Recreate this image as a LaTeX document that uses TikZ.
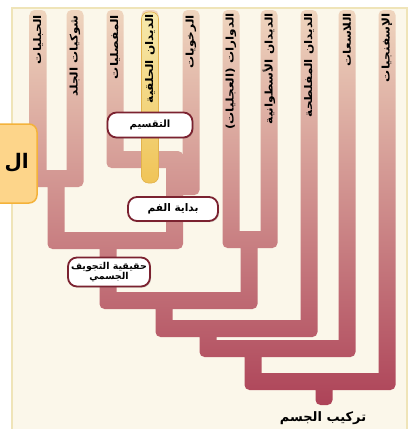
\documentclass[tikz,border=0pt]{standalone}
\usepackage{fontspec}
\newfontfamily\arfont[Script=Arabic]{DejaVu Sans}
\newfontfamily\arlabel[Script=Arabic, FakeStretch=1.15]{DejaVu Sans}
\TeXXeTstate=1
\usetikzlibrary{shadows}
\definecolor{bgcream}{HTML}{FBF7EA}
\definecolor{framecol}{HTML}{EFE4B8}
\definecolor{treetop}{HTML}{EFD5BE}
\definecolor{treemid}{HTML}{D3948F}
\definecolor{treebot}{HTML}{AD4358}
\definecolor{nodeborder}{HTML}{7B2230}
\definecolor{yelltop}{HTML}{F6E9AE}
\definecolor{yellbot}{HTML}{F0C457}
\definecolor{yelledge}{HTML}{E2B24C}
\definecolor{boxfill}{HTML}{FDD58A}
\definecolor{boxborder}{HTML}{F4B23A}
\begin{document}
\begin{tikzpicture}[x=1pt,y=-1pt,
 leaflabel/.style={rotate=90, anchor=east, font=\arlabel\bfseries\fontsize{10.5}{10.5}\selectfont, inner sep=0pt},
 trait/.style={draw=nodeborder, line width=1.8pt, fill=white, rounded corners=9pt,
   font=\arfont\bfseries\fontsize{10}{11}\selectfont, align=center, inner sep=2pt,
   drop shadow={opacity=0.3, shadow xshift=1pt, shadow yshift=-1.2pt}},
]
\useasboundingbox (0,0) rectangle (415,429);
\fill[white] (0,0) rectangle (415,429);
\fill[bgcream, draw=framecol, line width=1.2pt] (12,8) rectangle (407,440);

% tree branches
\begin{scope}
\clip[rounded corners=5pt]
 (29.5,10) rectangle (46.5,187)
 (66.5,10) rectangle (83.5,187)
 (29.5,170) rectangle (83.5,187)
 (47.5,170) rectangle (64.5,249)
 (106.5,10) rectangle (123.5,168)
 (141.5,10) rectangle (158.5,168)
 (106.5,151) rectangle (183,168)
 (182.5,10) rectangle (199.5,195)
 (166,178) rectangle (199.5,195)
 (166,151) rectangle (183,249)
 (47.5,232) rectangle (183,249)
 (99.5,232) rectangle (116.5,309)
 (222.5,10) rectangle (239.5,248)
 (260.5,10) rectangle (277.5,248)
 (222.5,231) rectangle (277.5,248)
 (240.5,231) rectangle (257.5,309)
 (99.5,292) rectangle (257.5,309)
 (155.5,292) rectangle (172.5,337)
 (300.5,10) rectangle (317.5,337)
 (155.5,320) rectangle (317.5,337)
 (199.5,320) rectangle (216.5,357)
 (338.5,10) rectangle (355.5,357)
 (199.5,340) rectangle (355.5,357)
 (244.5,340) rectangle (261.5,390)
 (378.5,10) rectangle (395.5,390)
 (244.5,373) rectangle (395.5,390)
 (315.5,373) rectangle (332.5,405);
\shade[top color=treetop, middle color=treemid, bottom color=treebot] (0,10) rectangle (415,405);
\end{scope}

% highlighted annelid lineage
\draw[yelledge, line width=0.6pt, top color=yelltop, bottom color=yellbot, rounded corners=7pt]
 (141.5,12) rectangle (158.5,183);

% leaf labels
\node[leaflabel] (t1) at (38,15) {\beginR الحبليات\endR};
\node[leaflabel] (t2) at (75,15) {\beginR شوكيات الجلد\endR};
\node[leaflabel] (t3) at (115,15) {\beginR المفصليات\endR};
\node[leaflabel] (t4) at (150,14) {\beginR الديدان الحلقية\endR};
\node[leaflabel] (t5) at (191,15) {\beginR الرخويات\endR};
\node[leaflabel] (t6) at (231,13) {\beginR الدوارات (العجليات)\endR};
\node[leaflabel] (t7) at (269,13) {\beginR الديدان الأسطوانية\endR};
\node[leaflabel] (t8) at (309,13) {\beginR الديدان المفلطحة\endR};
\node[leaflabel] (t9) at (347,13) {\beginR اللاسعات\endR};
\node[leaflabel] (t10) at (387,13) {\beginR الإسفنجيات\endR};

% trait nodes
\node[trait, minimum width=85pt, minimum height=25pt] (seg) at (150,125) {\beginR التقسيم\endR};
\node[trait, minimum width=90pt, minimum height=24pt, font=\arfont\bfseries\fontsize{10.5}{11}\selectfont] (mouth) at (173,209) {\beginR بداية الفم\endR};
\node[trait, minimum width=82pt, minimum height=29pt, inner sep=1pt, font=\arfont\bfseries\fontsize{9.5}{10}\selectfont] (coel) at (109,272) {\beginR حقيقية التجويف\endR\\\beginR الجسمي\endR};
\node[font=\arfont\bfseries\fontsize{13}{13}\selectfont, inner sep=0pt] (body) at (323,418) {\beginR تركيب الجسم\endR};

% cut-off orange tab
\draw[boxborder, fill=boxfill, line width=1.5pt, rounded corners=8pt] (-40,124) rectangle (37,203);
\node[anchor=base east, font=\arfont\bfseries\fontsize{20}{20}\selectfont, inner sep=0pt] (tab) at (29,168) {\beginR ال\endR};
\end{tikzpicture}
\end{document}
